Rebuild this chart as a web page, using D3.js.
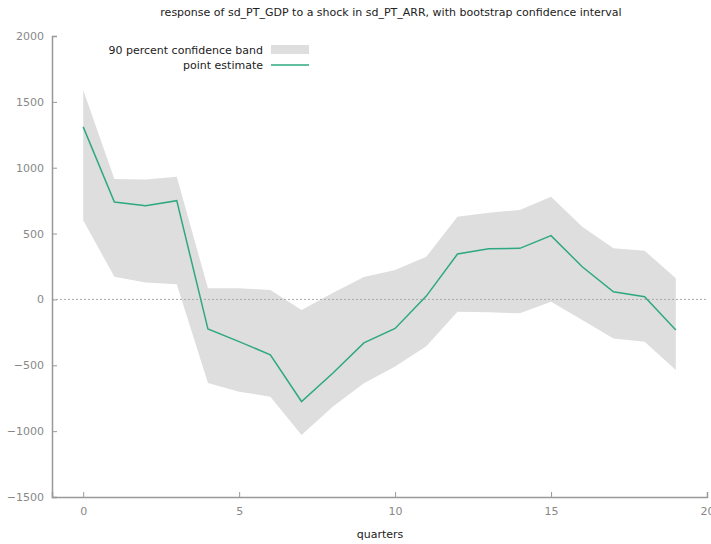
<!DOCTYPE html>
<html>
<head>
<meta charset="utf-8">
<script src="https://cdn.jsdelivr.net/npm/d3@7"></script>
<style>
  body { margin: 0; background: #fff; }
  text { font-family: "DejaVu Sans", sans-serif; }
</style>
</head>
<body>
<div id="plot"></div>
<script>
// quarters 0..19
const quarters = d3.range(0, 20);
const pointEstimate = [1310, 740, 712, 750, -225, -320, -420, -775, -560, -330,
                       -220, 25, 345, 385, 388, 484, 248, 58, 20, -232];
const bandUpper = [1590, 914, 910, 932, 84, 85, 71, -80, 48, 170,
                   223, 324, 628, 658, 679, 780, 552, 388, 370, 160];
const bandLower = [601, 172, 128, 115, -635, -700, -738, -1030, -815, -637,
                   -510, -355, -93, -98, -105, -17, -156, -296, -321, -536];
const yTicks = [-1500, -1000, -500, 0, 500, 1000, 1500, 2000];
const xTicks = [0, 5, 10, 15, 20];

const W = 711, H = 544;
const margin = {top: 36, right: 4, bottom: 47, left: 52};
const width = W - margin.left - margin.right;
const height = H - margin.top - margin.bottom;

const svg = d3.select("#plot").append("svg")
  .attr("width", W)
  .attr("height", H);

const g = svg.append("g")
  .attr("transform", `translate(${margin.left},${margin.top})`);

const x = d3.scaleLinear().domain([-1, 20]).range([0, width]);
const y = d3.scaleLinear().domain([-1500, 2000]).range([height, 0]);

const data = quarters.map((q, i) => ({q, est: pointEstimate[i], lo: bandLower[i], hi: bandUpper[i]}));

// confidence band
g.append("path")
  .datum(data)
  .attr("fill", "#dedede")
  .attr("d", d3.area().x(d => x(d.q)).y0(d => y(d.lo)).y1(d => y(d.hi)));

// zero line
g.append("line")
  .attr("x1", 0).attr("x2", width)
  .attr("y1", y(0)).attr("y2", y(0))
  .attr("stroke", "#aaa")
  .attr("stroke-dasharray", "2,2");

// point estimate
g.append("path")
  .datum(data)
  .attr("fill", "none")
  .attr("stroke", "#2ea882")
  .attr("stroke-width", 1.5)
  .attr("d", d3.line().x(d => x(d.q)).y(d => y(d.est)));

// axes
const yAxis = g.append("g")
  .call(d3.axisLeft(y).tickValues(yTicks).tickFormat(d3.format("d")).tickSize(-5).tickPadding(8));
const xAxis = g.append("g")
  .attr("transform", `translate(0,${height})`)
  .call(d3.axisBottom(x).tickValues(xTicks).tickFormat(d3.format("d")).tickSize(-5).tickPadding(10));

[xAxis, yAxis].forEach(a => {
  a.select(".domain").attr("stroke", "#999").attr("stroke-width", 1.5);
  a.selectAll(".tick line").attr("stroke", "#999");
  a.selectAll(".tick text").attr("fill", "#888").style("font-size", "11px")
    .style("font-family", "DejaVu Sans, sans-serif");
});

// title
svg.append("text")
  .attr("x", 391).attr("y", 16)
  .attr("text-anchor", "middle")
  .attr("fill", "#222")
  .style("font-size", "11px")
  .text("response of sd_PT_GDP to a shock in sd_PT_ARR, with bootstrap confidence interval");

// x label
svg.append("text")
  .attr("x", 380).attr("y", 538)
  .attr("text-anchor", "middle")
  .attr("fill", "#222")
  .style("font-size", "11px")
  .text("quarters");

// legend
const legend = svg.append("g");
legend.append("text")
  .attr("x", 263).attr("y", 54)
  .attr("text-anchor", "end")
  .attr("fill", "#222")
  .style("font-size", "11px")
  .text("90 percent confidence band");
legend.append("rect")
  .attr("x", 271).attr("y", 45)
  .attr("width", 38).attr("height", 9)
  .attr("fill", "#dedede");
legend.append("text")
  .attr("x", 263).attr("y", 69)
  .attr("text-anchor", "end")
  .attr("fill", "#222")
  .style("font-size", "11px")
  .text("point estimate");
legend.append("line")
  .attr("x1", 271).attr("x2", 309)
  .attr("y1", 65).attr("y2", 65)
  .attr("stroke", "#2ea882")
  .attr("stroke-width", 1.5);
</script>
</body>
</html>
